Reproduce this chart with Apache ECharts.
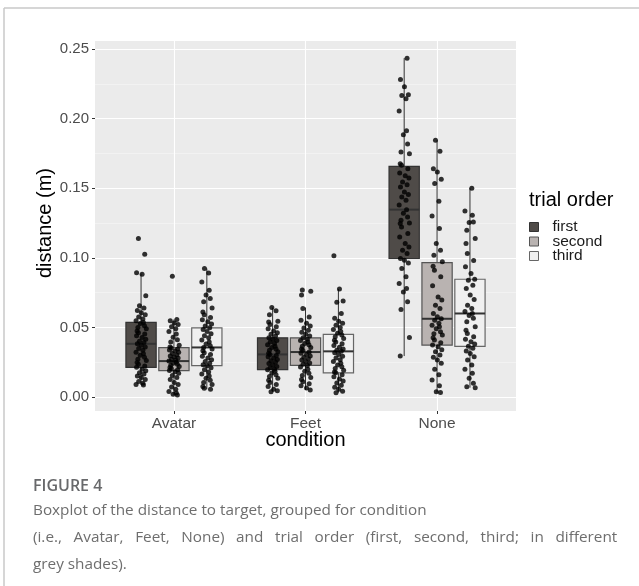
<!DOCTYPE html>
<html><head><meta charset="utf-8">
<script src="https://cdn.jsdelivr.net/npm/echarts@6/dist/echarts.min.js"></script>
<style>html,body{margin:0;padding:0;background:#fff}#c{width:639px;height:586px}</style>
</head><body><div id="c"></div>
<script>
// ---------- data ----------
const conditions = ['Avatar', 'Feet', 'None'];
const trialOrders = ['first', 'second', 'third'];
const yTicks = [0.00, 0.05, 0.10, 0.15, 0.20, 0.25];

// box statistics per condition: [lower whisker, Q1, median, Q3, upper whisker]
const boxFirst = [
  [0.0086, 0.0213, 0.0382, 0.0536, 0.0887],
  [0.0038, 0.0196, 0.0306, 0.0425, 0.0643],
  [0.0294, 0.0995, 0.1346, 0.1657, 0.2434]
];
const boxSecond = [
  [0.0014, 0.0189, 0.0258, 0.0354, 0.0557],
  [0.0050, 0.0227, 0.0323, 0.0425, 0.0643],
  [0.0033, 0.0373, 0.0562, 0.0966, 0.1844]
];
const boxThird = [
  [0.0055, 0.0225, 0.0356, 0.0497, 0.0923],
  [0.0031, 0.0174, 0.0328, 0.0450, 0.0775],
  [0.0067, 0.0364, 0.0600, 0.0846, 0.1500]
];

// individual observations (jittered points)
const avatarFirst = [0.1138, 0.1026, 0.0892, 0.0882, 0.0727, 0.0655, 0.0640, 0.0622, 0.0605, 0.0590, 0.0575, 0.0560, 0.0548, 0.0535, 0.0528, 0.0512, 0.0500, 0.0490, 0.0475, 0.0462, 0.0452, 0.0440, 0.0428, 0.0415, 0.0400, 0.0392, 0.0382, 0.0372, 0.0360, 0.0348, 0.0335, 0.0322, 0.0310, 0.0300, 0.0285, 0.0272, 0.0262, 0.0248, 0.0235, 0.0222, 0.0213, 0.0200, 0.0188, 0.0175, 0.0165, 0.0150, 0.0140, 0.0125, 0.0112, 0.0098, 0.0090, 0.0086];
const avatarSecond = [0.0868, 0.0557, 0.0548, 0.0532, 0.0520, 0.0505, 0.0490, 0.0470, 0.0452, 0.0430, 0.0412, 0.0395, 0.0372, 0.0360, 0.0352, 0.0345, 0.0338, 0.0330, 0.0322, 0.0312, 0.0302, 0.0295, 0.0288, 0.0280, 0.0272, 0.0265, 0.0258, 0.0250, 0.0243, 0.0236, 0.0228, 0.0220, 0.0212, 0.0205, 0.0196, 0.0190, 0.0182, 0.0170, 0.0155, 0.0140, 0.0125, 0.0105, 0.0090, 0.0072, 0.0055, 0.0040, 0.0028, 0.0020, 0.0014];
const avatarThird = [0.0923, 0.0890, 0.0827, 0.0767, 0.0732, 0.0708, 0.0684, 0.0640, 0.0610, 0.0590, 0.0572, 0.0555, 0.0540, 0.0525, 0.0510, 0.0497, 0.0485, 0.0470, 0.0455, 0.0440, 0.0425, 0.0410, 0.0395, 0.0380, 0.0368, 0.0356, 0.0345, 0.0332, 0.0318, 0.0305, 0.0292, 0.0280, 0.0268, 0.0255, 0.0242, 0.0232, 0.0225, 0.0210, 0.0195, 0.0180, 0.0165, 0.0150, 0.0135, 0.0120, 0.0105, 0.0090, 0.0075, 0.0062, 0.0055];
const feetFirst = [0.0643, 0.0620, 0.0590, 0.0545, 0.0538, 0.0520, 0.0505, 0.0490, 0.0475, 0.0462, 0.0450, 0.0438, 0.0425, 0.0415, 0.0405, 0.0395, 0.0385, 0.0375, 0.0365, 0.0355, 0.0345, 0.0335, 0.0325, 0.0315, 0.0306, 0.0298, 0.0290, 0.0280, 0.0270, 0.0260, 0.0250, 0.0240, 0.0230, 0.0220, 0.0210, 0.0200, 0.0196, 0.0185, 0.0172, 0.0160, 0.0148, 0.0135, 0.0120, 0.0105, 0.0090, 0.0075, 0.0055, 0.0045, 0.0038];
const feetSecond = [0.0768, 0.0760, 0.0732, 0.0636, 0.0575, 0.0552, 0.0530, 0.0510, 0.0495, 0.0480, 0.0465, 0.0450, 0.0438, 0.0425, 0.0415, 0.0405, 0.0395, 0.0385, 0.0375, 0.0365, 0.0355, 0.0345, 0.0335, 0.0323, 0.0315, 0.0305, 0.0295, 0.0285, 0.0275, 0.0265, 0.0255, 0.0245, 0.0235, 0.0227, 0.0215, 0.0200, 0.0185, 0.0170, 0.0155, 0.0140, 0.0125, 0.0110, 0.0095, 0.0080, 0.0065, 0.0050];
const feetThird = [0.1014, 0.0775, 0.0689, 0.0680, 0.0600, 0.0565, 0.0545, 0.0530, 0.0515, 0.0500, 0.0485, 0.0470, 0.0458, 0.0445, 0.0432, 0.0420, 0.0408, 0.0395, 0.0382, 0.0370, 0.0358, 0.0345, 0.0335, 0.0328, 0.0318, 0.0305, 0.0292, 0.0280, 0.0268, 0.0255, 0.0242, 0.0230, 0.0218, 0.0205, 0.0192, 0.0180, 0.0174, 0.0160, 0.0145, 0.0130, 0.0115, 0.0100, 0.0085, 0.0070, 0.0055, 0.0042, 0.0031];
const noneFirst = [0.2434, 0.2280, 0.2229, 0.2171, 0.2166, 0.2142, 0.2054, 0.1913, 0.1884, 0.1817, 0.1760, 0.1748, 0.1676, 0.1664, 0.1640, 0.1609, 0.1590, 0.1573, 0.1544, 0.1525, 0.1508, 0.1473, 0.1455, 0.1437, 0.1413, 0.1380, 0.1346, 0.1320, 0.1293, 0.1270, 0.1250, 0.1246, 0.1222, 0.1174, 0.1150, 0.1103, 0.1078, 0.1055, 0.1030, 0.0995, 0.0983, 0.0963, 0.0923, 0.0863, 0.0815, 0.0780, 0.0755, 0.0684, 0.0629, 0.0428, 0.0294];
const noneSecond = [0.1844, 0.1765, 0.1640, 0.1617, 0.1564, 0.1533, 0.1406, 0.1300, 0.1210, 0.1103, 0.1055, 0.1019, 0.0971, 0.0940, 0.0911, 0.0863, 0.0800, 0.0719, 0.0696, 0.0660, 0.0636, 0.0600, 0.0576, 0.0562, 0.0552, 0.0529, 0.0515, 0.0504, 0.0490, 0.0468, 0.0455, 0.0445, 0.0425, 0.0409, 0.0390, 0.0373, 0.0361, 0.0340, 0.0325, 0.0301, 0.0285, 0.0265, 0.0242, 0.0200, 0.0160, 0.0122, 0.0080, 0.0038, 0.0033];
const noneThird = [0.1500, 0.1336, 0.1306, 0.1253, 0.1258, 0.1198, 0.1138, 0.1103, 0.1031, 0.0980, 0.0935, 0.0887, 0.0846, 0.0839, 0.0803, 0.0780, 0.0732, 0.0700, 0.0660, 0.0636, 0.0615, 0.0600, 0.0585, 0.0565, 0.0540, 0.0504, 0.0480, 0.0457, 0.0433, 0.0415, 0.0397, 0.0380, 0.0364, 0.0350, 0.0330, 0.0313, 0.0290, 0.0265, 0.0230, 0.0200, 0.0170, 0.0134, 0.0098, 0.0074, 0.0067];

const pointsFirst = [avatarFirst, feetFirst, noneFirst];
const pointsSecond = [avatarSecond, feetSecond, noneSecond];
const pointsThird = [avatarThird, feetThird, noneThird];

const captionTitle = 'FIGURE 4';
const captionLines = [
  'Boxplot of the distance to target, grouped for condition',
  '(i.e., Avatar, Feet, None) and trial order (first, second, third; in different',
  'grey shades).'
];

// ---------- layout / style ----------
const DODGE = [-0.25, 0, 0.25];
const BOX_W = 0.23;
const JITTER = [-0.02, 0.028, -0.034, 0.008, 0.036, -0.012, 0.022, -0.028, 0.002, 0.032, -0.018, 0.014, -0.038, 0.018, -0.006, 0.026, -0.024, 0.04, -0.03];
const FILLS = ['#4f4b48', '#b9b3b1', '#f0f0f0'];
const STROKES = ['#333333', '#555555', '#666666'];
const FONT = 'Liberation Sans';
const CAP_FONT = 'Open Sans';
const CAP_TOPS = [503, 530, 557];
// the justified middle caption line: widen the word gaps
const JUSTIFY = [false, true, false];

const boxSets = [boxFirst, boxSecond, boxThird];
const pointSets = [pointsFirst, pointsSecond, pointsThird];

function boxRenderer(stroke) {
  return function (params, api) {
    const x = api.value(0);
    const lo = api.value(1), q1 = api.value(2), md = api.value(3), q3 = api.value(4), hi = api.value(5);
    const h = BOX_W / 2;
    const a = api.coord([x, lo]), b = api.coord([x, hi]);
    const tl = api.coord([x - h, q3]), br = api.coord([x + h, q1]);
    const ml = api.coord([x - h, md]), mr = api.coord([x + h, md]);
    return {
      type: 'group',
      children: [
        { type: 'line', shape: { x1: a[0], y1: a[1], x2: b[0], y2: b[1] }, style: { stroke: '#333', lineWidth: 1 } },
        { type: 'rect', shape: { x: tl[0], y: tl[1], width: br[0] - tl[0], height: br[1] - tl[1] }, style: { fill: api.visual('color'), stroke: stroke, lineWidth: 1.2 } },
        { type: 'line', shape: { x1: ml[0], y1: ml[1], x2: mr[0], y2: mr[1] }, style: { stroke: '#333', lineWidth: 2 } }
      ]
    };
  };
}

const series = [];
trialOrders.forEach((t, ti) => {
  series.push({
    name: t, type: 'custom', xAxisIndex: 1, yAxisIndex: 1, clip: false, z: 2,
    itemStyle: { color: FILLS[ti] },
    renderItem: boxRenderer(STROKES[ti]),
    data: boxSets[ti].map((s, ci) => [ci + 1 + DODGE[ti]].concat(s))
  });
});
trialOrders.forEach((t, ti) => {
  const data = [];
  let k = ti * 5;
  pointSets[ti].forEach((vals, ci) => {
    vals.forEach(v => { data.push([ci + 1 + DODGE[ti] + JITTER[k % JITTER.length], v]); k++; });
  });
  series.push({
    name: 'pts-' + t, type: 'scatter', xAxisIndex: 1, yAxisIndex: 1, z: 4,
    symbol: 'circle', symbolSize: 5, itemStyle: { color: '#000' }, silent: true,
    data: data
  });
});

const graphics = [
  { type: 'line', shape: { x1: 4, y1: 8, x2: 639, y2: 8 }, style: { stroke: '#c8c8c8', lineWidth: 1.5 } },
  { type: 'line', shape: { x1: 4, y1: 8, x2: 4, y2: 586 }, style: { stroke: '#c8c8c8', lineWidth: 1.5 } },
  { type: 'text', left: 529, top: 190, style: { text: 'trial order', fontSize: 20, fill: '#000', fontFamily: FONT } },
  { type: 'text', left: 33, top: 478, style: { text: captionTitle, fontSize: 16, fontWeight: 600, fill: '#68696b', fontFamily: CAP_FONT } }
];
captionLines.forEach((line, i) => {
  graphics.push({
    type: 'text', left: 33, top: CAP_TOPS[i],
    style: { text: JUSTIFY[i] ? line.split(' ').join(' \u2002') : line, fontSize: 15.3, fill: '#6e6e6e', fontFamily: CAP_FONT }
  });
});

const chart = echarts.init(document.getElementById('c'), null, { renderer: 'canvas' });
chart.setOption({
  animation: false,
  backgroundColor: '#fff',
  textStyle: { fontFamily: FONT },
  grid: [
    { left: 95, top: 41, width: 421, height: 370, show: true, backgroundColor: '#ebebeb', borderWidth: 0 },
    { left: 95, top: 49, width: 421, height: 348 },
    { left: 173.94, top: 41, width: 263.12, height: 370 }
  ],
  xAxis: [
    { gridIndex: 0, type: 'value', show: false, min: 0, max: 1 },
    { gridIndex: 1, type: 'value', show: false, min: 0.4, max: 3.6 },
    {
      gridIndex: 2, type: 'category', data: conditions, boundaryGap: false,
      axisLine: { show: false },
      axisTick: { show: true, length: 3, lineStyle: { color: '#333' } },
      axisLabel: { color: '#4d4d4d', fontSize: 15.5, margin: 5, fontFamily: FONT },
      splitLine: { show: true, lineStyle: { color: '#ffffff', width: 1.1 } },
      name: 'condition', nameLocation: 'middle', nameGap: 19, nameMoveOverlap: false,
      nameTextStyle: { color: '#000', fontSize: 20, fontFamily: FONT }
    }
  ],
  yAxis: [
    { gridIndex: 0, type: 'value', show: false, min: 0, max: 1 },
    {
      gridIndex: 1, type: 'value', min: yTicks[0], max: yTicks[yTicks.length - 1], interval: yTicks[1] - yTicks[0],
      axisLine: { show: false },
      axisTick: { show: true, length: 3, lineStyle: { color: '#333' } },
      axisLabel: { color: '#4d4d4d', fontSize: 15, margin: 6, fontFamily: FONT, formatter: v => v.toFixed(2) },
      splitLine: { show: true, lineStyle: { color: '#ffffff', width: 1.1 } },
      minorTick: { show: false, splitNumber: 2 },
      minorSplitLine: { show: true, lineStyle: { color: '#f6f6f6', width: 0.6 } },
      name: 'distance (m)', nameLocation: 'middle', nameGap: 40, nameMoveOverlap: false,
      nameTextStyle: { color: '#000', fontSize: 20, fontFamily: FONT }
    },
    { gridIndex: 2, type: 'value', show: false, min: 0, max: 1 }
  ],
  legend: {
    orient: 'vertical', left: 529, top: 219, itemGap: -1.5, padding: 0,
    itemWidth: 9, itemHeight: 9,
    textStyle: { color: '#1a1a1a', fontSize: 15.5, fontFamily: FONT, padding: [0, 0, 0, 9] },
    data: trialOrders.map((t, ti) => ({ name: t, icon: 'rect', itemStyle: { color: FILLS[ti], borderColor: STROKES[ti], borderWidth: 1 } }))
  },
  graphic: graphics,
  series: series
});
</script>
</body></html>
